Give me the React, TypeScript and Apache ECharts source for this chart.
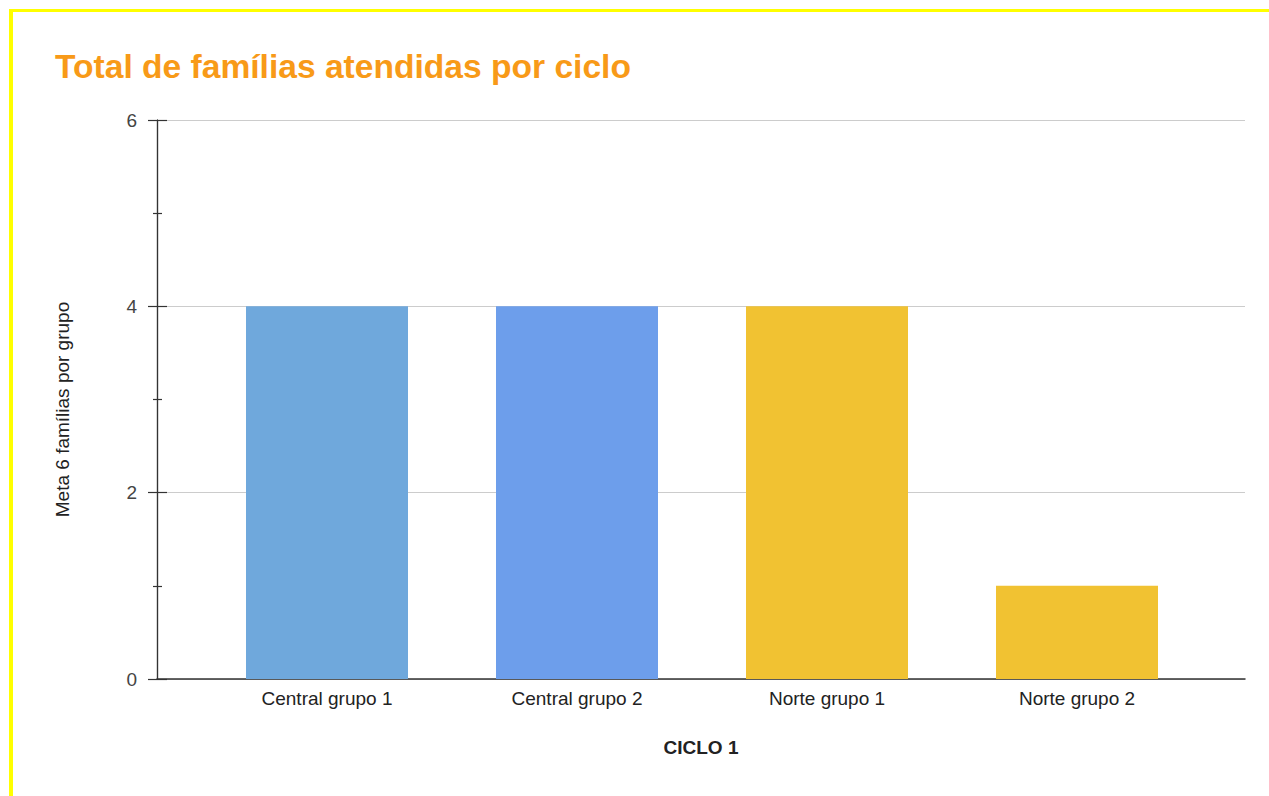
import React, { useEffect, useRef } from "react";
import * as echarts from "echarts";

const categories = ["Central grupo 1", "Central grupo 2", "Norte grupo 1", "Norte grupo 2"];
const values = [4, 4, 4, 1];
const barColors = ["#6fa8dc", "#6d9eeb", "#f1c232", "#f1c232"];
const yTicks = [0, 2, 4, 6];

export default function App() {
  const ref = useRef<HTMLDivElement>(null);
  useEffect(() => {
    if (!ref.current) return;
    const chart = echarts.init(ref.current, null, { renderer: "svg" });
    const font = "Arial, 'Liberation Sans', sans-serif";
    chart.setOption({
      animation: false,
      backgroundColor: "#ffffff",
      title: {
        text: "Total de famílias atendidas por ciclo",
        left: 50,
        top: 44,
        textStyle: { color: "#f89a18", fontSize: 33.6, fontWeight: "bold", fontFamily: font },
      },
      graphic: [
        { type: "rect", left: 9, top: 9, shape: { width: 1260, height: 3 }, style: { fill: "#ffff00" }, z: 100 },
        { type: "rect", left: 9, top: 9, shape: { width: 4, height: 787 }, style: { fill: "#ffff00" }, z: 100 },
      ],
      grid: { left: 157, right: 24, top: 120, bottom: 117 },
      xAxis: {
        type: "value",
        min: -0.68,
        max: 3.672,
        name: "CICLO 1",
        nameLocation: "middle",
        nameGap: 59,
        nameTextStyle: { color: "#222", fontSize: 19, fontWeight: "bold", fontFamily: font },
        axisLine: { show: true, onZero: false, lineStyle: { color: "#333", width: 1.5 } },
        axisTick: { show: false },
        splitLine: { show: false },
        axisLabel: {
          customValues: categories.map((_, i) => i),
          formatter: (v: number) => categories[Math.round(v)] ?? "",
          color: "#222",
          fontSize: 19,
          fontFamily: font,
          margin: 10,
        },
      },
      yAxis: [
        {
          type: "value",
          min: 0,
          max: 6,
          interval: 2,
          position: "left",
          offset: 0,
          name: "Meta 6 famílias por grupo",
          nameLocation: "middle",
          nameGap: 85,
          nameTextStyle: { color: "#222", fontSize: 19, fontFamily: font, padding: [0, 20, 0, 0] },
          axisLine: { show: true, onZero: false, lineStyle: { color: "#333", width: 1.2 } },
          axisTick: { show: true, inside: false, length: 9, lineStyle: { color: "#333", width: 1.2 } },
          minorTick: { show: true, splitNumber: 2, length: 4, lineStyle: { color: "#333", width: 1.2 } },
          axisLabel: {
            customValues: yTicks,
            color: "#444",
            fontSize: 19,
            fontFamily: font,
            margin: 20,
          },
          splitLine: { show: true, lineStyle: { color: "#cccccc", width: 1 } },
        },
        {
          type: "value",
          min: 0,
          max: 6,
          interval: 2,
          position: "left",
          offset: 0,
          axisLine: { show: true, onZero: false, lineStyle: { color: "#333", width: 1.2 } },
          axisTick: { show: true, inside: true, length: 10, lineStyle: { color: "#333", width: 1.2 } },
          minorTick: { show: true, splitNumber: 2, length: 5, lineStyle: { color: "#333", width: 1.2 } },
          axisLabel: { show: false },
          splitLine: { show: false },
        },
      ],
      series: [
        {
          type: "bar",
          yAxisIndex: 0,
          barWidth: 162,
          data: values.map((v, i) => ({ value: [i, v], itemStyle: { color: barColors[i] } })),
        },
      ],
    });
    return () => chart.dispose();
  }, []);
  return (
    <div
      ref={ref}
      style={{ position: "fixed", left: 0, top: 0, width: 1269, height: 796 }}
    />
  );
}
